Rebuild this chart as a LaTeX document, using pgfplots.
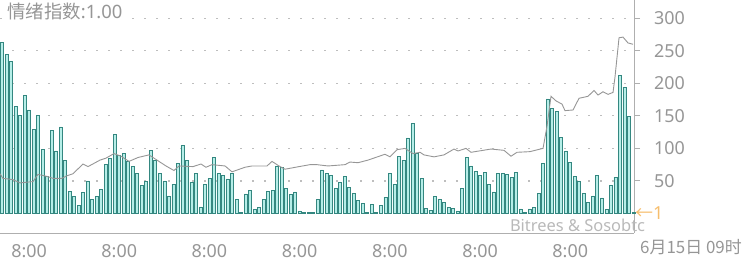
\documentclass[border=0pt]{standalone}
\usepackage{pgfplots}
\pgfplotsset{compat=1.18}
\usepackage{fontspec}
\setmainfont{Noto Sans}
\newfontfamily\cjk{Noto Sans CJK SC}

\definecolor{barfill}{RGB}{182,238,232}
\definecolor{baredge}{RGB}{52,135,128}
\definecolor{trend}{RGB}{150,150,150}
\definecolor{labelgray}{RGB}{150,150,150}
\definecolor{gridgray}{RGB}{190,190,190}
\definecolor{axisgray}{RGB}{175,175,175}
\definecolor{markorange}{RGB}{246,190,110}

\begin{document}
\begin{tikzpicture}
\begin{axis}[
  scale only axis, width=634bp, height=233bp,
  xmin=-0.44, xmax=140.13, ymin=-30, ymax=328,
  axis x line=bottom, axis y line=right,
  axis line style={draw=axisgray, line width=0.9bp, -},
  ytick={50,100,...,300},
  xtick={6,26,...,126},
  xticklabels={8:00,8:00,8:00,8:00,8:00,8:00,8:00},
  ymajorgrids,
  grid style={gridgray, line width=1.2bp, dash pattern=on 1.5bp off 10.5bp},
  xtick style={draw=none},
  ytick style={draw=axisgray, line width=0.9bp},
  tick align=outside, major tick length=6bp,
  /pgf/number format/assume math mode=true,
  ticklabel style={font=\fontsize{18}{20}\selectfont, text=labelgray},
  yticklabel style={anchor=west, inner sep=0pt, xshift=14bp},
  xticklabel style={anchor=north, inner sep=0pt, text depth=0pt, yshift=-5.5bp},
  clip=false,
]
% activity per 72-minute slot
\addplot[ybar, bar width=3bp, fill=barfill, draw=baredge, line width=0.7bp]
coordinates {
(0,263)(1,244)(2,233)(3,165)(4,150)(5,181)(6,159)(7,129)(8,151)(9,99)
(10,57)(11,127)(12,96)(13,133)(14,81)(15,34)(16,26)(17,13)(18,32)(19,50)
(20,21)(21,26)(22,37)(23,75)(24,85)(25,122)(26,89)(27,92)(28,80)(29,72)
(30,62)(31,43)(32,49)(33,97)(34,82)(35,62)(36,50)(37,27)(38,45)(39,77)
(40,105)(41,82)(42,48)(43,62)(44,10)(45,45)(46,54)(47,86)(48,61)(49,59)
(50,53)(51,62)(52,22)(53,1)(54,30)(55,35)(56,6)(57,9)(58,22)(59,34)
(60,36)(61,73)(62,71)(63,39)(64,29)(65,33)(66,4)(67,1)(68,1)(69,1)
(70,21)(71,67)(72,62)(73,58)(74,38)(75,48)(76,57)(77,40)(78,31)(79,20)
(80,15)(81,1)(82,14)(83,1)(84,12)(85,25)(86,62)(87,45)(88,88)(89,82)
(90,116)(91,138)(92,92)(93,54)(94,8)(95,5)(96,26)(97,22)(98,17)(99,9)
(100,8)(101,4)(102,39)(103,86)(104,73)(105,64)(106,58)(107,63)(108,45)(109,33)
(110,62)(111,61)(112,60)(113,55)(114,63)(115,7)(116,2)(117,7)(118,9)(119,31)
(120,77)(121,176)(122,162)(123,157)(124,117)(125,96)(126,78)(127,57)(128,49)(129,31)
(130,17)(131,27)(132,58)(133,24)(134,6)(135,43)(136,56)(137,212)(138,194)(139,149)
(140,1)
};
% price trend
\addplot[trend, line width=0.9bp, no marks]
coordinates {
(-0.44,61)(0.22,54)(2.44,52)(3.99,47)(6.87,49)(7.98,60)(9.98,57)(11.31,54)
(13.30,54)(14.41,58)(15.74,61)(17.96,76)(19.07,72)(21.73,82)(23.06,85)
(24.83,92)(26.39,88)(28.16,80)(30.16,86)(32.59,90)(34.15,83)(36.36,73)
(38.14,66)(39.25,73)(42.35,72)(44.12,76)(45.23,71)(46.56,75)(49.45,73)
(51.00,64)(53.88,71)(55.43,73)(58.76,73)(59.87,80)(61.42,73)(62.75,68)
(65.85,72)(68.29,75)(69.84,75)(72.28,73)(76.05,75)(77.16,79)(78.94,78)
(80.04,80)(81.15,82)(84.92,91)(86.03,87)(87.58,98)(89.36,100)(91.13,92)
(92.68,94)(93.57,90)(95.79,87)(98.00,90)(100.22,99)(101.11,96)(102.88,100)
(103.99,94)(108.43,99)(111.31,97)(112.86,88)(114.19,94)(117.07,95)
(119.96,100)(120.84,134)(121.73,180)(122.84,173)(124.17,168)(124.83,158)
(126.61,159)(127.94,177)(129.93,180)(131.26,189)(132.15,182)(133.26,187)
(134.37,183)(135.48,186)(135.92,210)(136.81,270)(137.69,271)(138.80,262)
(139.91,260)
};
\node[anchor=north west, fill=white, inner xsep=2bp, inner ysep=1.5bp,
      text=labelgray, font=\fontsize{18.5}{20}\selectfont]
  at ([xshift=5bp,yshift=-1bp]rel axis cs:0,1) {{\cjk 情绪指数}:1.00};
\node[anchor=west, inner sep=0pt, text=gray!55, font=\fontsize{16.5}{18}\selectfont]
  at (axis cs:112.6,-18) {Bitrees \& Sosobtc};
\node[anchor=west, inner sep=0pt, text=markorange, font=\fontsize{18}{19}\selectfont]
  at ([xshift=1bp]axis cs:140.13,1) {{\cjk ←}1};
\node[anchor=north west, inner sep=0pt, text=labelgray, font=\fontsize{17}{18}\selectfont]
  at ([xshift=6bp,yshift=-6bp]rel axis cs:1,0) {\cjk 6月15日 09时};
\end{axis}
\pgfresetboundingbox
\useasboundingbox (current axis.south west) ++(0,-27bp) rectangle ++(750bp,260bp);
\end{tikzpicture}
\end{document}
